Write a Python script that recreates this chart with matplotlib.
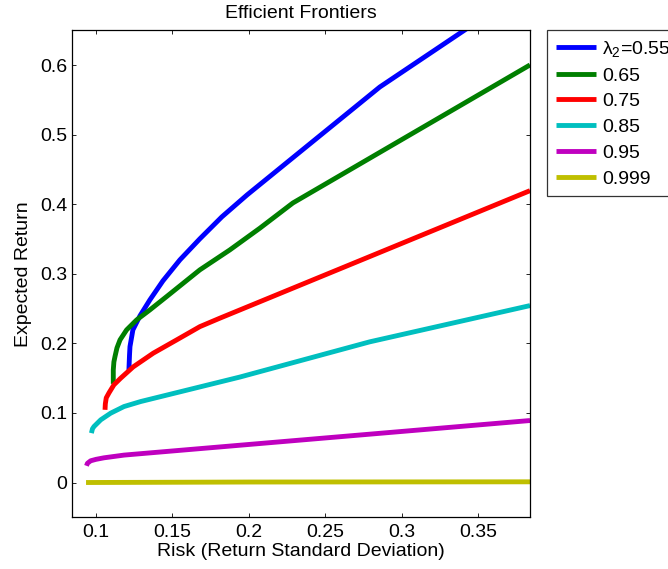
import matplotlib
matplotlib.use("Agg")
import matplotlib.pyplot as plt
from matplotlib.ticker import FormatStrFormatter

plt.rcParams['font.family'] = ['Liberation Sans', 'DejaVu Sans']
plt.rcParams['mathtext.fontset'] = 'custom'
plt.rcParams['mathtext.rm'] = 'Liberation Sans'
plt.rcParams['mathtext.it'] = 'Liberation Sans'
plt.rcParams['mathtext.default'] = 'rm'

labels = ["$\\lambda_2$=0.55", "0.65", "0.75", "0.85", "0.95", "0.999"]
colors = ["#0000ff", "#007f00", "#ff0000", "#00bfbf", "#bf00bf", "#bfbf00"]

risk_055 = [0.1217, 0.1221, 0.1224, 0.1243, 0.1289, 0.1354, 0.1439, 0.155, 0.168, 0.1824, 0.1989, 0.2856, 0.3391, 0.3837]
ret_055 = [0.1619, 0.1835, 0.1954, 0.2194, 0.2395, 0.2625, 0.2898, 0.320, 0.3502, 0.3818, 0.4134, 0.5685, 0.6475, 0.7134]

risk_065 = [0.1115, 0.1115, 0.1119, 0.1126, 0.1139, 0.1159, 0.1202, 0.1268, 0.1354, 0.1463, 0.168, 0.1876, 0.2072, 0.2288, 0.3837]
ret_065 = [0.1418, 0.1619, 0.1734, 0.181, 0.1935, 0.205, 0.2194, 0.2338, 0.2481, 0.2672, 0.3056, 0.3343, 0.3655, 0.4018, 0.6002]

risk_075 = [0.1061, 0.1063, 0.1069, 0.1087, 0.1119, 0.1162, 0.1245, 0.1376, 0.1529, 0.1681, 0.1811, 0.3837]
ret_075 = [0.1045, 0.1131, 0.1217, 0.1289, 0.1404, 0.1497, 0.1662, 0.1859, 0.205, 0.2241, 0.2362, 0.4195]

risk_085 = [0.0972, 0.0979, 0.0989, 0.1033, 0.1098, 0.1185, 0.1294, 0.1942, 0.279, 0.3837]
ret_085 = [0.071, 0.0772, 0.0805, 0.0901, 0.0997, 0.1092, 0.1164, 0.1516, 0.2022, 0.2543]

risk_095 = [0.094, 0.0946, 0.0967, 0.1002, 0.1054, 0.1185, 0.1243, 0.3837]
ret_095 = [0.024, 0.0276, 0.0312, 0.0333, 0.0355, 0.0394, 0.0405, 0.0891]

risk_0999 = [0.0937, 0.2, 0.3837]
ret_0999 = [0.0, 0.0007, 0.001]

risks = [risk_055, risk_065, risk_075, risk_085, risk_095, risk_0999]
rets = [ret_055, ret_065, ret_075, ret_085, ret_095, ret_0999]

xticks = [0.1, 0.15, 0.2, 0.25, 0.3, 0.35]
yticks = [0, 0.1, 0.2, 0.3, 0.4, 0.5, 0.6]

fig = plt.figure(figsize=(6.68, 5.69), dpi=100)
ax = fig.add_axes([71.5/668, 1-517.3/569, (530-71.5)/668, (517.3-30.3)/569])

handles = []
for r, e, c, l in zip(risks, rets, colors, labels):
    h, = ax.plot(r, e, color=c, lw=3.5, label=l, solid_capstyle='butt', solid_joinstyle='round')
    handles.append(h)

ax.set_xlim(0.0842, 0.3837)
ax.set_ylim(-0.05, 0.65)
ax.set_xticks(xticks)
ax.set_yticks(yticks)
ax.xaxis.set_major_formatter(FormatStrFormatter('%g'))
ax.yaxis.set_major_formatter(FormatStrFormatter('%g'))
ax.tick_params(direction='in', length=3, width=0.6, labelsize=14, top=True, right=True, colors='black')
ax.tick_params(axis='x', pad=5)
ax.tick_params(axis='y', pad=3)
for s in ax.spines.values():
    s.set_linewidth(0.9)

ax.set_title("Efficient Frontiers", fontsize=14, pad=9)
ax.set_xlabel("Risk (Return Standard Deviation)", fontsize=14, labelpad=1)
ax.set_ylabel("Expected Return", fontsize=14, labelpad=6)

leg = fig.legend(handles=handles, loc='upper left', bbox_to_anchor=(547.3/668, 1-30/569),
                 frameon=True, fancybox=False, edgecolor='black', fontsize=14,
                 handlelength=2.06, handletextpad=0.3, labelspacing=0.42,
                 borderpad=0.45, borderaxespad=0)
leg.get_frame().set_linewidth(0.9)

fig.savefig("out.png", dpi=100)
